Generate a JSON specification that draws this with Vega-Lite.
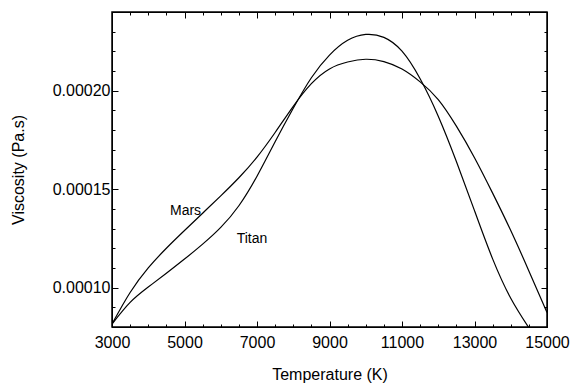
{
  "$schema": "https://vega.github.io/schema/vega-lite/v6.json",
  "width": 435,
  "height": 315,
  "autosize": {"type": "none"},
  "padding": {"left": 112, "top": 12, "right": 24, "bottom": 58},
  "background": "white",
  "config": {
    "view": {"stroke": "black", "strokeWidth": 1.5},
    "font": "Liberation Sans",
    "axis": {
      "grid": false,
      "domainColor": "black",
      "tickColor": "black",
      "labelColor": "black",
      "titleColor": "black",
      "labelFont": "Liberation Sans",
      "titleFont": "Liberation Sans",
      "labelFontSize": 16,
      "titleFontSize": 16,
      "titleFontWeight": "normal"
    }
  },
  "layer": [
    {
      "data": {
        "values": [
          {"series": "Mars", "T": 3000, "v": 0.0000815},
          {"series": "Mars", "T": 3500, "v": 0.0000975},
          {"series": "Mars", "T": 4000, "v": 0.000110},
          {"series": "Mars", "T": 4500, "v": 0.000120},
          {"series": "Mars", "T": 5000, "v": 0.000129},
          {"series": "Mars", "T": 5500, "v": 0.0001378},
          {"series": "Mars", "T": 6000, "v": 0.0001466},
          {"series": "Mars", "T": 6500, "v": 0.0001558},
          {"series": "Mars", "T": 7000, "v": 0.0001663},
          {"series": "Mars", "T": 7500, "v": 0.0001788},
          {"series": "Mars", "T": 8000, "v": 0.0001921},
          {"series": "Mars", "T": 8500, "v": 0.0002036},
          {"series": "Mars", "T": 9000, "v": 0.0002111},
          {"series": "Mars", "T": 9500, "v": 0.0002146},
          {"series": "Mars", "T": 10000, "v": 0.000216},
          {"series": "Mars", "T": 10500, "v": 0.0002148},
          {"series": "Mars", "T": 11000, "v": 0.000211},
          {"series": "Mars", "T": 11500, "v": 0.0002045},
          {"series": "Mars", "T": 12000, "v": 0.0001955},
          {"series": "Mars", "T": 12500, "v": 0.000182},
          {"series": "Mars", "T": 13000, "v": 0.000166},
          {"series": "Mars", "T": 13500, "v": 0.000148},
          {"series": "Mars", "T": 14000, "v": 0.000129},
          {"series": "Mars", "T": 14500, "v": 0.0001085},
          {"series": "Mars", "T": 15000, "v": 0.0000874},
          {"series": "Titan", "T": 3000, "v": 0.0000815},
          {"series": "Titan", "T": 3500, "v": 0.0000925},
          {"series": "Titan", "T": 4000, "v": 0.0001003},
          {"series": "Titan", "T": 4500, "v": 0.0001073},
          {"series": "Titan", "T": 5000, "v": 0.0001145},
          {"series": "Titan", "T": 5500, "v": 0.0001221},
          {"series": "Titan", "T": 6000, "v": 0.0001306},
          {"series": "Titan", "T": 6500, "v": 0.0001416},
          {"series": "Titan", "T": 7000, "v": 0.0001566},
          {"series": "Titan", "T": 7500, "v": 0.0001741},
          {"series": "Titan", "T": 8000, "v": 0.0001911},
          {"series": "Titan", "T": 8500, "v": 0.0002066},
          {"series": "Titan", "T": 9000, "v": 0.0002181},
          {"series": "Titan", "T": 9500, "v": 0.0002256},
          {"series": "Titan", "T": 10000, "v": 0.0002286},
          {"series": "Titan", "T": 10500, "v": 0.0002271},
          {"series": "Titan", "T": 11000, "v": 0.0002201},
          {"series": "Titan", "T": 11500, "v": 0.0002061},
          {"series": "Titan", "T": 12000, "v": 0.0001871},
          {"series": "Titan", "T": 12500, "v": 0.0001641},
          {"series": "Titan", "T": 13000, "v": 0.0001391},
          {"series": "Titan", "T": 13500, "v": 0.0001146},
          {"series": "Titan", "T": 14000, "v": 0.0000946},
          {"series": "Titan", "T": 14500, "v": 0.0000796}
        ]
      },
      "mark": {"type": "line", "interpolate": "natural", "color": "black", "strokeWidth": 1.2, "clip": true},
      "encoding": {
        "x": {
          "field": "T", "type": "quantitative",
          "scale": {"domain": [3000, 15000], "nice": false, "zero": false},
          "axis": {
            "orient": "bottom",
            "title": "Temperature (K)",
            "values": [3000,3500,4000,4500,5000,5500,6000,6500,7000,7500,8000,8500,9000,9500,10000,10500,11000,11500,12000,12500,13000,13500,14000,14500,15000],
            "labelExpr": "datum.value % 2000 == 1000 ? format(datum.value, 'd') : ''",
            "tickSize": {"condition": {"test": "datum.value % 2000 == 1000", "value": -6}, "value": -3},
            "labelPadding": 13,
            "labelFlush": false,
            "titlePadding": 16
          }
        },
        "y": {
          "field": "v", "type": "quantitative",
          "scale": {"domain": [0.00008, 0.00024], "nice": false, "zero": false},
          "axis": {
            "orient": "left",
            "title": "Viscosity (Pa.s)",
            "values": [0.00008,0.00009,0.0001,0.00011,0.00012,0.00013,0.00014,0.00015,0.00016,0.00017,0.00018,0.00019,0.0002,0.00021,0.00022,0.00023,0.00024],
            "labelExpr": "round(datum.value*100000) % 5 == 0 && datum.value < 0.000235 && datum.value > 0.000085 ? format(datum.value, '.5f') : ''",
            "tickSize": {"condition": {"test": "round(datum.value*100000) % 5 == 0", "value": -6}, "value": -3},
            "labelPadding": 8,
            "labelFlush": false,
            "titlePadding": 26
          }
        },
        "detail": {"field": "series"}
      }
    },
    {
      "data": {
        "values": [
          {"name": "Mars", "T": 4600, "v": 0.000137},
          {"name": "Titan", "T": 6440, "v": 0.0001229}
        ]
      },
      "mark": {"type": "text", "align": "left", "baseline": "alphabetic", "font": "Liberation Sans", "fontSize": 14, "color": "black"},
      "encoding": {
        "x": {
          "field": "T", "type": "quantitative",
          "axis": {
            "orient": "top", "title": null, "labels": false,
            "values": [3000,3500,4000,4500,5000,5500,6000,6500,7000,7500,8000,8500,9000,9500,10000,10500,11000,11500,12000,12500,13000,13500,14000,14500,15000],
            "tickSize": {"condition": {"test": "datum.value % 2000 == 1000", "value": -6}, "value": -3}
          }
        },
        "y": {
          "field": "v", "type": "quantitative",
          "axis": {
            "orient": "right", "title": null, "labels": false,
            "values": [0.00008,0.00009,0.0001,0.00011,0.00012,0.00013,0.00014,0.00015,0.00016,0.00017,0.00018,0.00019,0.0002,0.00021,0.00022,0.00023,0.00024],
            "tickSize": {"condition": {"test": "round(datum.value*100000) % 5 == 0", "value": -6}, "value": -3}
          }
        },
        "text": {"field": "name"}
      }
    }
  ],
  "resolve": {"axis": {"x": "independent", "y": "independent"}}
}
